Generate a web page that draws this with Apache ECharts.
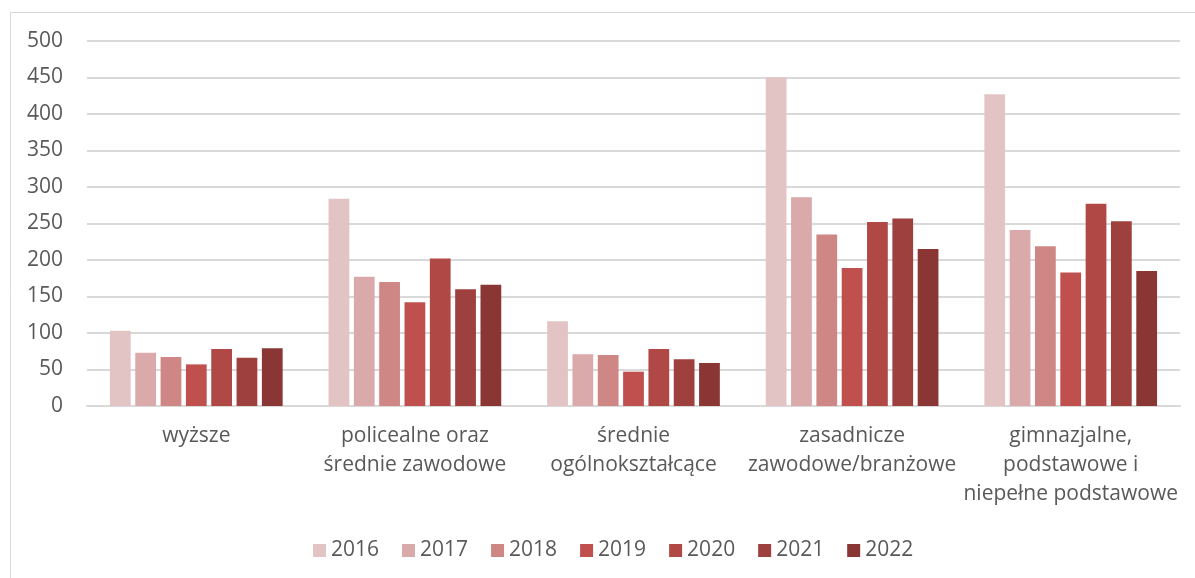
<!DOCTYPE html>
<html>
<head>
<meta charset="utf-8">
<script src="https://cdn.jsdelivr.net/npm/echarts@6/dist/echarts.min.js"></script>
<style>
  html, body { margin: 0; padding: 0; background: #fff; }
  #chart { width: 1195px; height: 578px; }
</style>
</head>
<body>
<div id="chart"></div>
<script>
// poziom wykształcenia
const categories = [
    'wyższe',
    'policealne oraz\nśrednie zawodowe',
    'średnie\nogólnokształcące',
    'zasadnicze\nzawodowe/branżowe',
    'gimnazjalne,\npodstawowe i\nniepełne podstawowe'
];

const years = ['2016', '2017', '2018', '2019', '2020', '2021', '2022'];

// wartości dla kolejnych lat
const v2016 = [103, 284, 116, 450, 427];
const v2017 = [73, 177, 71, 286, 241];
const v2018 = [67, 170, 70, 235, 219];
const v2019 = [57, 142, 47, 189, 183];
const v2020 = [78, 202, 78, 252, 277];
const v2021 = [66, 160, 64, 257, 253];
const v2022 = [79, 166, 59, 215, 185];

const values = [v2016, v2017, v2018, v2019, v2020, v2021, v2022];
const colors = ['#e3c4c5', '#daa9a9', '#ce8784', '#c0504d', '#b04946', '#9e403e', '#8a3634'];

const chart = echarts.init(document.getElementById('chart'));
const font = '"Open Sans", Lato, sans-serif';
const textColor = '#595959';

const option = {
    animation: false,
    textStyle: { fontFamily: font },
    graphic: [{
        type: 'rect',
        shape: { x: 10.5, y: 12.5, width: 1200, height: 600 },
        style: { fill: 'none', stroke: '#d9d9d9', lineWidth: 1 },
        silent: true
    }],
    grid: { left: 87, right: 15, top: 41, bottom: 172 },
    legend: {
        data: years,
        bottom: 12,
        left: 308,
        itemWidth: 13,
        itemHeight: 13,
        itemGap: 23,
        icon: 'rect',
        textStyle: { color: textColor, fontSize: 21, fontFamily: font }
    },
    xAxis: {
        type: 'category',
        data: categories,
        axisLine: { lineStyle: { color: '#d9d9d9', width: 2 } },
        axisTick: { show: false },
        axisLabel: {
            color: textColor,
            fontSize: 21,
            lineHeight: 29,
            margin: 16,
            interval: 0
        }
    },
    yAxis: {
        type: 'value',
        min: 0,
        max: 500,
        interval: 50,
        axisLine: { show: false },
        axisTick: { show: false },
        splitLine: { lineStyle: { color: '#d9d9d9', width: 2 } },
        axisLabel: { color: textColor, fontSize: 21, margin: 24 }
    },
    series: years.map((y, i) => ({
        name: y,
        type: 'bar',
        data: values[i],
        barGap: '22%',
        barCategoryGap: '21%',
        itemStyle: { color: colors[i] }
    }))
};

chart.setOption(option);
</script>
</body>
</html>
